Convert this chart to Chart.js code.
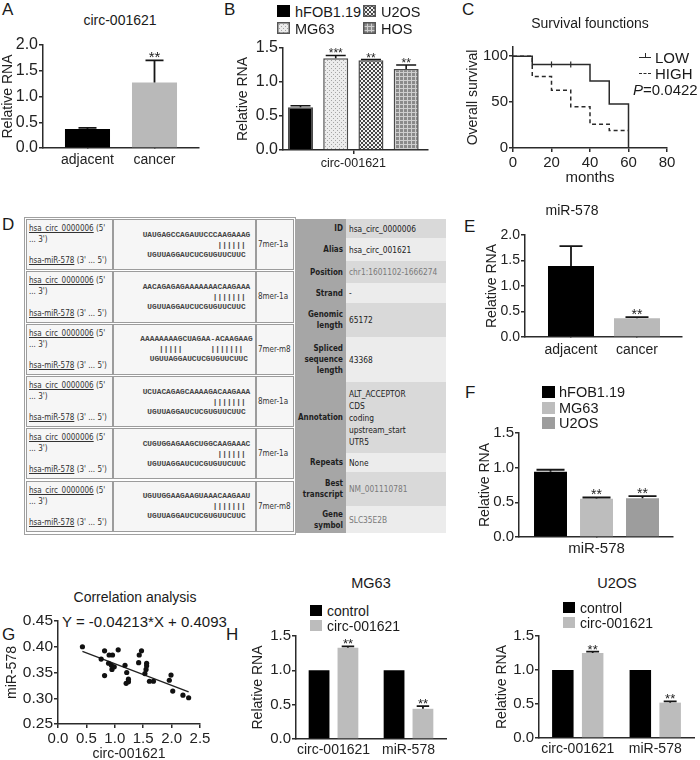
<!DOCTYPE html>
<html><head><meta charset="utf-8">
<title>circ-001621 / miR-578</title>
<script src="https://cdn.jsdelivr.net/npm/chart.js@4.4.1/dist/chart.umd.min.js"></script>
<style>
html,body{margin:0;padding:0;background:#fff;}
#root{position:relative;width:700px;height:760px;overflow:hidden;font-family:'Liberation Sans',Arial,sans-serif;color:#1a1a1a;}
.t{position:absolute;white-space:nowrap;line-height:1;}
.cell{position:absolute;box-sizing:border-box;border:1px solid #9c9c9c;background:#f6f6f6;overflow:hidden;}
.tbl{font-family:'DejaVu Sans Condensed','DejaVu Sans',sans-serif;font-stretch:condensed;font-size:8px;color:#333;}
.seq{font-family:'Liberation Mono','DejaVu Sans Mono',monospace;font-weight:bold;font-size:7.8px;white-space:pre;text-align:center;line-height:10px;color:#444;}
</style></head>
<body><div id="root"></div>
<script>
// ================= DATA =================
// A
const catsA = ['adjacent', 'cancer'];
const valsA = [0.37, 1.27];
const errA  = [0.39, 1.70];
const sigA  = ['', '**'];
const ticksA = [0, 0.5, 1.0, 1.5, 2.0];
// B
const seriesB = ['hFOB1.19', 'MG63', 'U2OS', 'HOS'];
const catB = 'circ-001621';
const valsB = [0.63, 1.35, 1.32, 1.19];
const errB  = [0.65, 1.39, 1.33, 1.25];
const sigB  = ['', '***', '**', '**'];
const ticksB = [0, 0.5, 1.0, 1.5];
// C
const monthsLow  = [0, 10, 40, 50, 60];
const survLow    = [100, 91, 73, 48, 0];
const censorLowX = [20, 30];
const censorLowY = [91, 91];
const monthsHigh = [0, 10, 20, 30, 40, 50, 60];
const survHigh   = [100, 78, 63, 45, 26, 19, 19];
const ticksCx = [0, 20, 40, 60, 80];
const ticksCy = [0, 50, 100];
const pValue = 'P=0.0422';
// D
const seedTop = ['UAUGAGCCAGAUUCCCAAGAAAG','AACAGAGAGAAAAAAACAAGAAA','AAAAAAAAGCUAGAA-ACAAGAAG','UCUACAGAGCAAAAGACAAGAAA','CUGUGGAGAAGCUGGCAAGAAAC','UGUUGGAAGAAGUAAACAAGAAU'];
const seedMid = ['                |||||| ','               ||||||| ','    |||||      |||||||  ','               ||||||| ','                |||||| ','               ||||||| '];
const seedBot = [' UGUUAGGAUCUCGUGUUCUUC ',' UGUUAGGAUCUCGUGUUCUUC ','  UGUUAGGAUCUCGUGUUCUUC ',' UGUUAGGAUCUCGUGUUCUUC ',' UGUUAGGAUCUCGUGUUCUUC ',' UGUUAGGAUCUCGUGUUCUUC '];
const seedType = ['7mer-1a','8mer-1a','7mer-m8','8mer-1a','7mer-1a','7mer-m8'];
const infoLabels = ['ID','Alias','Position','Strand','Genomic<br>length','Spliced<br>sequence<br>length','Annotation','Repeats','Best<br>transcript','Gene<br>symbol'];
const infoValues = ['hsa_circ_0000006','hsa_circ_001621','chr1:1601102-1666274','-','65172','43368','ALT_ACCEPTOR<br>CDS<br>coding<br>upstream_start<br>UTR5','None','NM_001110781','SLC35E2B'];
// E
const catsE = ['adjacent', 'cancer'];
const valsE = [1.39, 0.37];
const errE  = [1.78, 0.39];
const sigE  = ['', '**'];
const ticksE = [0, 0.5, 1.0, 1.5, 2.0];
// F
const seriesF = ['hFOB1.19', 'MG63', 'U2OS'];
const catF = 'miR-578';
const valsF = [0.94, 0.55, 0.56];
const errF  = [0.97, 0.57, 0.59];
const sigF  = ['', '**', '**'];
const ticksF = [0, 0.5, 1.0, 1.5];
// G
const corrX = [0.43,0.76,0.82,0.82,0.90,0.96,0.89,0.94,0.95,0.99,1.06,1.18,1.21,1.24,1.20,1.24,1.42,1.43,1.47,1.56,1.56,1.55,1.53,1.61,1.68,1.96,1.99,2.02,2.20,2.30];
const corrY = [0.400,0.376,0.392,0.344,0.384,0.384,0.368,0.364,0.356,0.361,0.394,0.364,0.350,0.337,0.329,0.332,0.369,0.384,0.392,0.368,0.363,0.356,0.348,0.333,0.333,0.335,0.345,0.314,0.306,0.301];
const slope = -0.04213, intercept = 0.4093;
const ticksGx = [0, 0.5, 1.0, 1.5, 2.0, 2.5];
const ticksGy = [0.25, 0.30, 0.35, 0.40, 0.45];
// H
const catsH = ['circ-001621', 'miR-578'];
const seriesH = ['control', 'circ-001621'];
const mgControl = [1.0, 1.0];
const mgCirc    = [1.33, 0.44];
const mgCircErr = [1.35, 0.48];
const mgSig     = ['**', '**'];
const u2Control = [1.0, 1.0];
const u2Circ    = [1.25, 0.52];
const u2CircErr = [1.27, 0.54];
const u2Sig     = ['**', '**'];
const ticksH = [0, 0.5, 1.0, 1.5];

// ================= HELPERS =================
const FF = "'Liberation Sans', Arial, sans-serif";
const AX = '#2b2b2b';
const root = document.getElementById('root');
Chart.defaults.font.family = FF;
Chart.defaults.color = '#222';

function T(html, x, y, size, o = {}) {
  const d = document.createElement('div');
  d.className = 't' + (o.cls ? ' ' + o.cls : '');
  d.innerHTML = html;
  d.style.left = x + 'px'; d.style.top = y + 'px'; d.style.fontSize = size + 'px';
  const ax = o.ax ?? 0, ay = o.ay ?? 0.5;
  d.style.transform = `translate(${-ax * 100}%,${-ay * 100}%)`;
  if (o.style) d.style.cssText += o.style;
  root.appendChild(d); return d;
}
function patCanvas(kind) {
  const c = document.createElement('canvas'); c.width = 4; c.height = 4;
  const x = c.getContext('2d');
  if (kind === 'solid') { x.fillStyle = '#000'; x.fillRect(0, 0, 4, 4); }
  if (kind === 'dots') { x.fillStyle = '#ececec'; x.fillRect(0, 0, 4, 4); x.fillStyle = '#a5a5a5'; x.fillRect(0, 0, 1, 1); x.fillRect(2, 2, 1, 1); }
  if (kind === 'check') { x.fillStyle = '#f2f2f2'; x.fillRect(0, 0, 4, 4); x.fillStyle = '#474747'; x.fillRect(0, 0, 2, 2); x.fillRect(2, 2, 2, 2); }
  if (kind === 'grid') { x.fillStyle = '#8a8a8a'; x.fillRect(0, 0, 4, 4); x.fillStyle = '#cfcfcf'; x.fillRect(0, 0, 4, 1); x.fillRect(0, 0, 1, 4); }
  return c;
}
function legendBox(x, y, w, h, fill, border) {
  const c = document.createElement('canvas'); c.width = w; c.height = h;
  c.style.cssText = `position:absolute;left:${x}px;top:${y}px;width:${w}px;height:${h}px;`;
  const g = c.getContext('2d');
  g.fillStyle = (fill instanceof HTMLCanvasElement) ? g.createPattern(fill, 'repeat') : fill;
  g.fillRect(0, 0, w, h);
  if (border) { g.strokeStyle = border; g.lineWidth = 1.5; g.strokeRect(0.75, 0.75, w - 1.5, h - 1.5); }
  root.appendChild(c);
}
function yAxis(o) {
  return {
    type: 'linear', min: o.min, max: o.max,
    afterBuildTicks: s => { s.ticks = o.ticks.map(v => ({ value: v })); },
    ticks: { font: { size: o.fs, family: FF }, color: '#222', padding: o.tp ?? 1, callback: v => o.fmt(v) },
    grid: { display: true, drawOnChartArea: false, drawTicks: true, tickLength: 4, color: AX, lineWidth: 1.5, offset: false },
    border: { display: true, color: AX, width: 1.5 },
    title: { display: !!o.title, text: o.title, font: { size: o.tfs || 14, family: FF }, color: '#222', padding: { top: o.titlePad ?? 0, bottom: 0 } },
    afterFit: s => { s.width = o.width; }
  };
}
function xAxisLin(o) {
  return {
    type: 'linear', min: o.min, max: o.max, offset: false,
    afterBuildTicks: s => { s.ticks = o.ticks.map(v => ({ value: v })); },
    ticks: { font: { size: o.fs, family: FF }, color: '#222', padding: o.tp ?? 3, maxRotation: 0, autoSkip: false,
      callback: v => { const i = o.ticks.indexOf(v); return o.labels ? (o.labels[i] ?? '') : o.fmt(v); } },
    grid: { display: true, drawOnChartArea: false, drawTicks: true, tickLength: o.tl ?? 0, color: AX, lineWidth: 1.5, offset: false },
    border: { display: true, color: AX, width: 1.5 },
    title: { display: !!o.title, text: o.title, font: { size: o.tfs || 14, family: FF }, color: '#222', padding: { top: 0, bottom: 0 } },
    afterFit: s => { s.height = o.height; }
  };
}
const errPlugin = {
  id: 'errbars',
  afterDatasetsDraw(chart, args, opts) {
    const ctx = chart.ctx, ys = chart.scales.y;
    chart.data.datasets.forEach((ds, di) => {
      if (!ds.errTop) return;
      const meta = chart.getDatasetMeta(di);
      meta.data.forEach((bar, i) => {
        const et = ds.errTop[i]; if (et == null) return;
        const yt = ys.getPixelForValue(et);
        const half = bar.width * (opts.cap || 0.4) / 2;
        ctx.save();
        ctx.strokeStyle = opts.color || '#151515'; ctx.lineWidth = opts.lw || 1.8;
        ctx.beginPath(); ctx.moveTo(bar.x, bar.y); ctx.lineTo(bar.x, yt);
        ctx.moveTo(bar.x - half, yt); ctx.lineTo(bar.x + half, yt); ctx.stroke();
        const s = ds.sig && ds.sig[i];
        if (s) {
          ctx.fillStyle = '#222'; ctx.font = `${opts.starSize || 14}px ${FF}`;
          ctx.textAlign = 'center'; ctx.textBaseline = 'alphabetic';
          ctx.fillText(s, bar.x, yt + (opts.starOff ?? 2));
        }
        ctx.restore();
      });
    });
  }
};
function makeChart(g, type, data, scales, extraPlugins = {}, plugins = []) {
  const c = document.createElement('canvas');
  const left = g.cl, top = g.T - g.pt, w = g.R + g.pr - g.cl, h = g.B + g.xh - top;
  c.width = w; c.height = h;
  c.style.cssText = `position:absolute;left:${left}px;top:${top}px;width:${w}px;height:${h}px;`;
  root.appendChild(c);
  return new Chart(c, {
    type, data, plugins,
    options: {
      responsive: false, animation: false, devicePixelRatio: 1,
      layout: { padding: { top: g.pt, right: g.pr, left: 0, bottom: 0 } },
      plugins: Object.assign({ legend: { display: false }, tooltip: { enabled: false }, title: { display: false } }, extraPlugins),
      scales
    }
  });
}
const f1 = v => v.toFixed(1), f2 = v => v.toFixed(2), f0 = v => String(v);

// ================= PANEL LETTERS =================
T('A', 2, 9, 17); T('B', 224, 9, 17); T('C', 462, 9, 17); T('D', 2, 224, 17);
T('E', 464, 226, 17); T('F', 465, 392, 17); T('G', 2, 634, 17); T('H', 226, 634, 17);

// ================= A =================
T('circ-001621', 120, 20, 14, { ax: 0.5 });
{
  const g = { cl: 0, L: 43, T: 45, R: 199, B: 148, pt: 12, pr: 6, xh: 24 };
  makeChart(g, 'bar', {
    datasets: [{ data: catsA.map((c, i) => ({ x: i + 1, y: valsA[i] })), backgroundColor: ['#000000', '#b9b9b9'],
      errTop: errA, sig: sigA, barPercentage: 0.672, categoryPercentage: 1 }]
  }, {
    x: xAxisLin({ min: 0.336, max: 2.664, ticks: [1, 2], labels: catsA, fs: 14, tp: 4, height: 24 }),
    y: yAxis({ min: 0, max: 2, ticks: ticksA, fmt: f1, fs: 16, title: 'Relative RNA', width: 43 })
  }, { errbars: { cap: 0.4, starSize: 15 } }, [errPlugin]);
}

// ================= B =================
{
  const pats = ['solid', 'dots', 'check', 'grid'].map(patCanvas);
  const ctxTmp = document.createElement('canvas').getContext('2d');
  const fills = pats.map(p => ctxTmp.createPattern(p, 'repeat'));
  const g = { cl: 235, L: 283, T: 48, R: 428, B: 150, pt: 12, pr: 6, xh: 24 };
  makeChart(g, 'bar', {
    datasets: [{ data: seriesB.map((s, i) => ({ x: i + 1, y: valsB[i] })), backgroundColor: fills,
      borderColor: '#4a4a4a', borderWidth: 1.5, errTop: errB, sig: sigB, barPercentage: 0.71, categoryPercentage: 1 }]
  }, {
    x: xAxisLin({ min: 0.503, max: 4.62, ticks: [2.5], labels: [catB], fs: 12.5, tp: 2, tl: 4, height: 24 }),
    y: yAxis({ min: 0, max: 1.5, ticks: ticksB, fmt: f1, fs: 16, title: 'Relative RNA', width: 48 })
  }, { errbars: { cap: 0.8, starSize: 12, lw: 1.6 } }, [errPlugin]);
  const pos = [[277, 5], [277, 22], [363, 5], [363, 22]];
  seriesB.forEach((s, i) => {
    legendBox(pos[i][0], pos[i][1], 13, 12, pats[i], i ? '#555' : null);
    T(s, pos[i][0] + 18, pos[i][1] + 6.5, 14.5);
  });
}

// ================= C =================
T('Survival founctions', 590, 23, 14, { ax: 0.5 });
{
  const g = { cl: 465, L: 513, T: 46.8, R: 667, B: 148, pt: 12, pr: 14, xh: 39 };
  makeChart(g, 'line', {
    datasets: [
      { data: monthsLow.map((m, i) => ({ x: m, y: survLow[i] })), stepped: 'before', borderColor: '#2a2a2a', borderWidth: 1.5, pointRadius: 0, fill: false, clip: false },
      { data: monthsHigh.map((m, i) => ({ x: m, y: survHigh[i] })), stepped: 'before', borderColor: '#2a2a2a', borderWidth: 1.5, borderDash: [4, 3], pointRadius: 0, fill: false, clip: false },
      { data: censorLowX.map((m, i) => ({ x: m, y: censorLowY[i] })), showLine: false, pointStyle: 'line', rotation: 90, pointRadius: 3, borderColor: '#2a2a2a', borderWidth: 1.2, clip: false }
    ]
  }, {
    x: xAxisLin({ min: 0, max: 80, ticks: ticksCx, fmt: f0, fs: 15, tp: 2, tl: 4, height: 39, title: 'months', tfs: 15 }),
    y: yAxis({ min: 0, max: 110, ticks: ticksCy, fmt: f0, fs: 15, title: 'Overall survival', width: 48 })
  });
  const ln = (x, y, dashed) => {
    const d = document.createElement('div');
    d.style.cssText = `position:absolute;left:${x}px;top:${y}px;width:12px;height:0;border-top:1.5px ${dashed ? 'dashed' : 'solid'} #2a2a2a;`;
    root.appendChild(d);
  };
  ln(639, 57, false);
  const tk = document.createElement('div'); tk.style.cssText = 'position:absolute;left:645px;top:53px;width:1.2px;height:5px;background:#2a2a2a;'; root.appendChild(tk);
  ln(639, 73, true);
  T('LOW', 655, 57, 15); T('HIGH', 655, 73, 15);
  T('<i>P</i>' + pValue.slice(1), 633, 89, 15);
}

// ================= D (table) =================
{
  const wrap = document.createElement('div');
  wrap.style.cssText = 'position:absolute;left:24px;top:217px;width:272px;height:318px;box-sizing:border-box;border:1px solid #a0a0a0;background:#fff;';
  root.appendChild(wrap);
  const rowH = 52.3, top0 = 219;
  for (let r = 0; r < 6; r++) {
    const y = top0 + r * rowH;
    const c1 = document.createElement('div'); c1.className = 'cell tbl';
    c1.style.cssText += `left:26px;top:${y}px;width:87px;height:${rowH - 1}px;padding:3px 2px;display:flex;flex-direction:column;justify-content:space-between;line-height:11px;`;
    c1.innerHTML = `<div><u>hsa_circ_0000006</u> (5'<br>... 3')</div><div><u>hsa-miR-578</u> (3' ... 5')</div>`;
    root.appendChild(c1);
    const c2 = document.createElement('div'); c2.className = 'cell';
    c2.style.cssText += `left:113px;top:${y}px;width:143px;height:${rowH - 1}px;display:flex;align-items:center;justify-content:center;padding-left:24px;`;
    c2.innerHTML = `<div class="seq">${seedTop[r]}<br>${seedMid[r]}<br>${seedBot[r]}</div>`;
    root.appendChild(c2);
    const c3 = document.createElement('div'); c3.className = 'cell tbl';
    c3.style.cssText += `left:256px;top:${y}px;width:38px;height:${rowH - 1}px;display:flex;align-items:center;padding-left:1px;font-size:8px;white-space:nowrap;`;
    c3.textContent = seedType[r];
    root.appendChild(c3);
  }
  const rowsY = [219, 238, 261, 283, 303, 337, 382, 453, 472, 506, 533];
  for (let i = 0; i < infoLabels.length; i++) {
    const y = rowsY[i], h = rowsY[i + 1] - rowsY[i];
    const l = document.createElement('div'); l.className = 'tbl';
    l.style.cssText = `position:absolute;left:295px;top:${y}px;width:51px;height:${h}px;background:#a6a6a6;display:flex;align-items:center;justify-content:flex-end;text-align:right;padding-right:3px;box-sizing:border-box;font-weight:bold;color:#1e1e1e;line-height:11px;font-size:8px;`;
    l.innerHTML = infoLabels[i]; root.appendChild(l);
    const v = document.createElement('div'); v.className = 'tbl';
    const light = [2, 8, 9].includes(i);
    v.style.cssText = `position:absolute;left:346px;top:${y}px;width:100px;height:${h}px;background:${i % 2 ? '#ececec' : '#d9d9d9'};display:flex;align-items:center;padding-left:3px;box-sizing:border-box;color:${light ? '#7a7a7a' : '#222'};line-height:12px;font-size:8.3px;`;
    v.innerHTML = infoValues[i]; root.appendChild(v);
  }
}

// ================= E =================
T('miR-578', 572, 210, 14, { ax: 0.5 });
{
  const g = { cl: 484, L: 525, T: 235, R: 682, B: 337, pt: 12, pr: 8, xh: 25 };
  makeChart(g, 'bar', {
    datasets: [{ data: catsE.map((c, i) => ({ x: i + 1, y: valsE[i] })), backgroundColor: ['#000000', '#b9b9b9'],
      errTop: errE, sig: sigE, barPercentage: 0.697, categoryPercentage: 1 }]
  }, {
    x: xAxisLin({ min: 0.303, max: 2.682, ticks: [1, 2], labels: catsE, fs: 14, tp: 5, height: 25 }),
    y: yAxis({ min: 0, max: 2, ticks: ticksE, fmt: f1, fs: 14, title: 'Relative RNA', width: 41 })
  }, { errbars: { cap: 0.5, starSize: 14 } }, [errPlugin]);
}

// ================= F =================
{
  const colsF = ['#000000', '#bdbdbd', '#9d9d9d'];
  const g = { cl: 477, L: 519, T: 433, R: 673, B: 537, pt: 12, pr: 8, xh: 22 };
  makeChart(g, 'bar', {
    datasets: [{ data: seriesF.map((s, i) => ({ x: i + 1, y: valsF[i] })), backgroundColor: colsF,
      errTop: errF, sig: sigF, barPercentage: 0.717, categoryPercentage: 1 }]
  }, {
    x: xAxisLin({ min: 0.315, max: 3.663, ticks: [2], labels: [catF], fs: 15, tp: 3, height: 22 }),
    y: yAxis({ min: 0, max: 1.5, ticks: ticksF, fmt: f1, fs: 15, title: 'Relative RNA', width: 42 })
  }, { errbars: { cap: 0.85, starSize: 14 } }, [errPlugin]);
  seriesF.forEach((s, i) => {
    legendBox(542, 386 + i * 15.5, 13, 12, colsF[i]);
    T(s, 559, 392 + i * 15.5, 14.5);
  });
}

// ================= G =================
T('Correlation analysis', 135, 597, 14, { ax: 0.5 });
T('Y = -0.04213*X + 0.4093', 62, 621, 15);
{
  const xmin = Math.min(...corrX), xmax = Math.max(...corrX);
  const g = { cl: 4, L: 58, T: 621, R: 200, B: 724, pt: 12, pr: 14, xh: 39 };
  makeChart(g, 'scatter', {
    datasets: [
      { data: corrX.map((x, i) => ({ x, y: corrY[i] })), pointRadius: 2.6, backgroundColor: '#111', borderWidth: 0 },
      { type: 'line', data: [{ x: xmin, y: slope * xmin + intercept }, { x: xmax, y: slope * xmax + intercept }], showLine: true, pointRadius: 0, borderColor: '#222', borderWidth: 1.3, fill: false }
    ]
  }, {
    x: xAxisLin({ min: 0, max: 2.5, ticks: ticksGx, fmt: f1, fs: 15, tp: 2, tl: 4, height: 39, title: 'circ-001621', tfs: 14 }),
    y: yAxis({ min: 0.25, max: 0.45, ticks: ticksGy, fmt: f2, fs: 15.5, title: 'miR-578', width: 54 })
  });
}

// ================= H =================
function hPanel(title, titleX, g, ctrl, circ, circErr, sig, legX, legY) {
  T(title, titleX, 583, 14.5, { ax: 0.5 });
  makeChart(g, 'bar', {
    labels: catsH,
    datasets: [
      { label: seriesH[0], data: ctrl, backgroundColor: '#000000', barPercentage: 0.72, categoryPercentage: 0.77 },
      { label: seriesH[1], data: circ, backgroundColor: '#bcbcbc', errTop: circErr, sig, barPercentage: 0.72, categoryPercentage: 0.77 }
    ]
  }, {
    x: { type: 'category', offset: true,
      ticks: { font: { size: 14, family: FF }, color: '#222', padding: 3, maxRotation: 0, autoSkip: false },
      grid: { display: false, drawTicks: false }, border: { display: true, color: AX, width: 1.5 },
      afterFit: s => { s.height = g.xh; } },
    y: yAxis({ min: 0, max: 1.5, ticks: ticksH, fmt: f1, fs: 15, title: 'Relative RNA', width: g.L - g.cl })
  }, { errbars: { cap: 0.6, starSize: 13 } }, [errPlugin]);
  legendBox(legX, legY, 12, 11, '#000000');
  T(seriesH[0], legX + 17, legY + 5.5, 14);
  legendBox(legX, legY + 15, 12, 11, '#bcbcbc');
  T(seriesH[1], legX + 17, legY + 20.5, 14);
}
hPanel('MG63', 371, { cl: 250, L: 296, T: 636, R: 446, B: 739, pt: 12, pr: 8, xh: 22 }, mgControl, mgCirc, mgCircErr, mgSig, 310, 605);
hPanel('U2OS', 617, { cl: 494, L: 539, T: 636, R: 694, B: 738, pt: 12, pr: 4, xh: 22 }, u2Control, u2Circ, u2CircErr, u2Sig, 563, 602);
</script>
</body></html>
